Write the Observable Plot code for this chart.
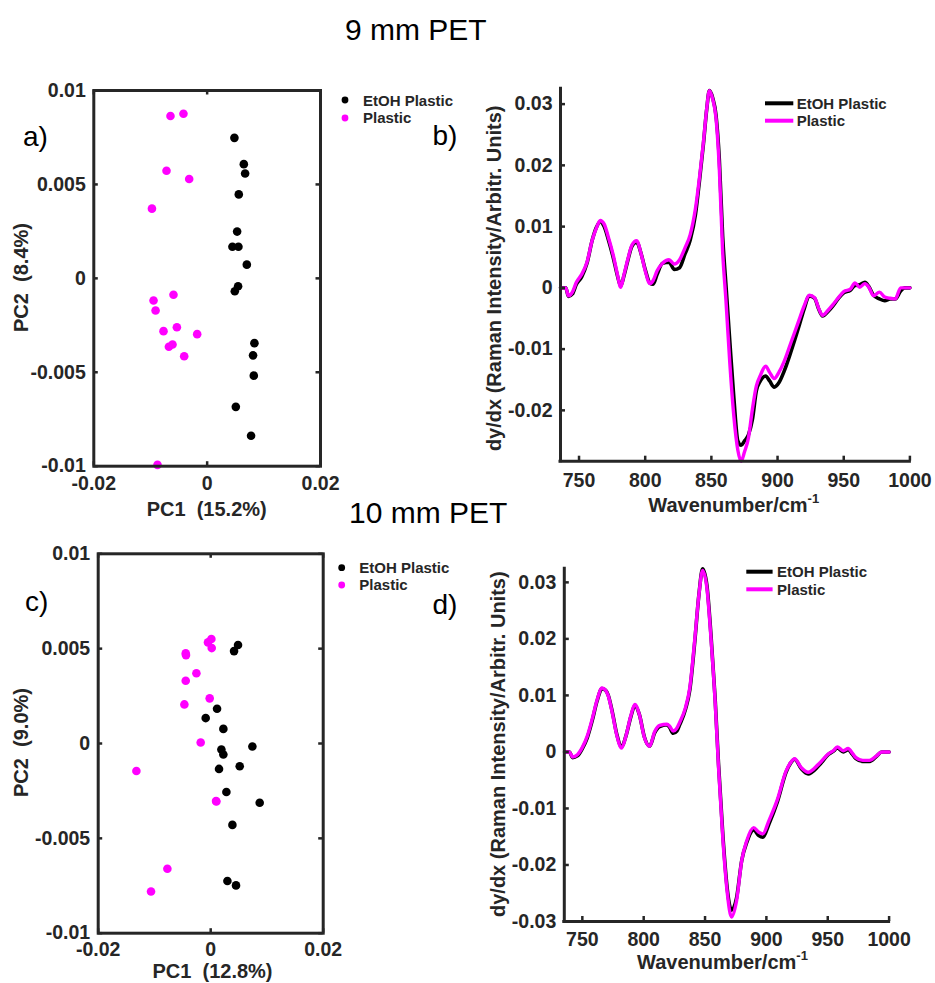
<!DOCTYPE html>
<html><head><meta charset="utf-8">
<script src="https://cdn.jsdelivr.net/npm/d3@7"></script>
<script src="https://cdn.jsdelivr.net/npm/@observablehq/plot@0.6"></script>
<style>
html,body{margin:0;padding:0;background:#fff;}
#root{position:relative;width:935px;height:983px;overflow:hidden;background:#fff;}
</style></head>
<body><div id="root"></div>
<script>
// ---------- data: PCA scores ----------
const aEtohPC1 = [0.00481,0.00647,0.0067,0.00558,0.00529,0.00446,0.00552,0.007,0.00546,0.00488,0.00834,0.0081,0.00823,0.00506,0.00775];
const aEtohPC2 = [0.00748,0.00608,0.00558,0.00447,0.00249,0.00168,0.00168,0.00073,-0.00042,-0.00069,-0.00345,-0.0041,-0.00518,-0.00684,-0.00838];
const aPlasticPC1 = [-0.00647,-0.00418,-0.00717,-0.00317,-0.00974,-0.00594,-0.00946,-0.0091,-0.0077,-0.00534,-0.00176,-0.00675,-0.00611,-0.00405,-0.00876];
const aPlasticPC2 = [0.00864,0.00876,0.00573,0.00529,0.00371,-0.00087,-0.00118,-0.00171,-0.00281,-0.0026,-0.00297,-0.00364,-0.00352,-0.00415,-0.00993];

const cEtohPC1 = [0.00486,0.00415,0.00113,-0.00089,0.00225,0.00741,0.0019,0.00225,0.00516,0.00148,0.00279,0.00871,0.00386,0.00297,0.0045];
const cEtohPC2 = [0.00519,0.00487,0.00183,0.00134,0.00077,-0.00016,-0.00032,-0.00058,-0.0012,-0.00134,-0.00256,-0.00312,-0.00429,-0.00725,-0.00748];
const cPlasticPC1 = [0.00012,-0.00048,0.00018,-0.00444,-0.00439,-0.00254,-0.00444,-0.00018,-0.00468,-0.00178,-0.01321,0.00095,0.00101,-0.0077,-0.01061];
const cPlasticPC2 = [0.00551,0.00533,0.00503,0.00475,0.00466,0.0037,0.00331,0.00238,0.00206,0.00005,-0.00145,-0.00303,-0.00306,-0.0066,-0.0078];

// ---------- data: derivative spectra ----------
const bWave = [736,740,742,745,748,752,756,760,763,766,769,772,776,779,781.5,784,787,790,793.5,797,800,803.5,806,809,813,818,822,826,830,834,838,841,844,846.5,848.5,851,853.5,856,858.5,861,864,867,870,872.5,875,878,881,884,887,891,894,897.5,901,905,910,916,920,924,928,931,934,938,942,946,950,955,958.5,962,966,969,972.5,977,981,985,989,993,996,1000];
const bPlastic = [0,0,-0.0013,-0.0007,0.0009,0.0022,0.0042,0.0078,0.0097,0.0110,0.0104,0.0084,0.0052,0.0022,0.0001,0.0022,0.0048,0.0070,0.0077,0.0055,0.0028,0.0007,0.0012,0.0028,0.0040,0.0046,0.0039,0.0046,0.0065,0.0087,0.0130,0.0180,0.0238,0.0293,0.0322,0.0308,0.0277,0.0195,0.0060,-0.0020,-0.0125,-0.0210,-0.0265,-0.0283,-0.0268,-0.0245,-0.0198,-0.0160,-0.0143,-0.0128,-0.0138,-0.0148,-0.0138,-0.0120,-0.0090,-0.0054,-0.0030,-0.0012,-0.0016,-0.0033,-0.0045,-0.0037,-0.0027,-0.0016,-0.0006,-0.0002,0.0008,0.0001,0.0007,0.0001,-0.0013,-0.0007,-0.0015,-0.0017,-0.0018,0,0,0];
const bEtoh = [0,0,-0.0014,-0.0010,0.0006,0.0018,0.0040,0.0078,0.0098,0.0108,0.0100,0.0080,0.0048,0.0020,0.0003,0.0020,0.0046,0.0068,0.0075,0.0055,0.0030,0.0008,0.0006,0.0022,0.0040,0.0042,0.0030,0.0033,0.0055,0.0078,0.0120,0.0175,0.0235,0.0292,0.0322,0.0310,0.0282,0.0210,0.0085,0.0005,-0.0090,-0.0180,-0.0250,-0.0257,-0.0250,-0.0240,-0.0215,-0.0168,-0.0152,-0.0144,-0.0152,-0.0162,-0.0155,-0.0136,-0.0105,-0.0064,-0.0035,-0.0013,-0.0017,-0.0034,-0.0046,-0.0039,-0.0029,-0.0017,-0.0008,-0.0004,0.0004,0.0005,0.0009,0.0002,-0.0012,-0.0018,-0.0021,-0.0018,-0.0018,-0.0005,0,0];

const dWave = [735.5,739.5,742,746,750,754,758,762,766,769,771,774.5,778,782,785.5,789.5,792.8,796.5,800.5,804.8,809,813,819,821,824,827,829.3,834,837.6,841.5,845,848,851.5,854.8,858.2,861,864.6,868.2,871.5,875.7,879.9,884,889.6,893.8,897.1,902,909,916,920,923,928.5,934,942.4,950.8,955,957.7,962.7,966.6,970,973,978.6,984,989.7,993.9,1000];
const dPlastic = [0,0,-0.0009,-0.0005,0.0008,0.0028,0.0058,0.0092,0.0113,0.0109,0.0100,0.0068,0.0030,0.0007,0.0028,0.0064,0.0084,0.0066,0.0026,0.0010,0.0036,0.0047,0.0049,0.0046,0.0037,0.0042,0.0052,0.0078,0.0114,0.0196,0.0278,0.0321,0.0290,0.0202,0.0090,-0.0028,-0.0157,-0.0251,-0.0292,-0.0263,-0.0192,-0.0157,-0.0134,-0.0142,-0.0145,-0.0122,-0.0084,-0.0034,-0.0018,-0.0012,-0.0028,-0.0036,-0.0022,-0.0003,0.0003,0.0009,0.0002,0.0006,-0.0002,-0.0010,-0.0015,-0.0015,-0.0007,0,0];
const dEtoh = [0,0,-0.0010,-0.0007,0.0006,0.0025,0.0055,0.0090,0.0112,0.0109,0.0101,0.0070,0.0032,0.0009,0.0028,0.0062,0.0082,0.0066,0.0027,0.0010,0.0034,0.0045,0.0048,0.0044,0.0033,0.0037,0.0048,0.0075,0.0110,0.0192,0.0278,0.0324,0.0295,0.0208,0.0095,-0.0022,-0.0150,-0.0244,-0.0280,-0.0258,-0.0192,-0.0160,-0.0138,-0.0148,-0.0151,-0.0128,-0.0088,-0.0036,-0.0019,-0.0013,-0.0030,-0.0039,-0.0025,-0.0004,0.0002,0.0007,0.0000,0.0004,-0.0004,-0.0012,-0.0017,-0.0017,-0.0008,0,0];

// ---------- ticks ----------
const pcXTicks = [-0.02, 0, 0.02];
const pcXTickLabels = ["-0.02", "0", "0.02"];
const pcYTicks = [-0.01, -0.005, 0, 0.005, 0.01];
const pcYTickLabels = ["-0.01", "-0.005", "0", "0.005", "0.01"];
const waveTicks = [750, 800, 850, 900, 950, 1000];
const waveTickLabels = ["750", "800", "850", "900", "950", "1000"];
const bYTicks = [-0.02, -0.01, 0, 0.01, 0.02, 0.03];
const bYTickLabels = ["-0.02", "-0.01", "0", "0.01", "0.02", "0.03"];
const dYTicks = [-0.03, -0.02, -0.01, 0, 0.01, 0.02, 0.03];
const dYTickLabels = ["-0.03", "-0.02", "-0.01", "0", "0.01", "0.02", "0.03"];

const seriesNames = ["EtOH Plastic", "Plastic"];
const seriesColors = ["#000000", "#ff00ff"];

// ---------- helpers ----------
const AX = "#262626";
const root = document.getElementById("root");
const fmt = (ticks, labels) => d => labels[ticks.indexOf(d)];

function place(svg, left, top) {
  svg.style.position = "absolute";
  svg.style.left = left + "px";
  svg.style.top = top + "px";
  root.appendChild(svg);
}

function baseStyle() {
  return {fontFamily: "'Liberation Sans', Arial, sans-serif", fontSize: "19.5px", fontWeight: "bold",
          color: AX, background: "transparent", overflow: "visible"};
}

function scatterPanel(cfg) {
  const mL = cfg.fl - cfg.left, mR = cfg.left + cfg.W - cfg.fr;
  const mT = cfg.ft - cfg.top, mB = cfg.top + cfg.H - cfg.fb;
  const iW = cfg.fr - cfg.fl, iH = cfg.fb - cfg.ft;
  const et = cfg.etX.map((x, i) => ({x, y: cfg.etY[i]}));
  const pl = cfg.plX.map((x, i) => ({x, y: cfg.plY[i]}));
  const tl = 4.5;
  const svg = Plot.plot({
    width: cfg.W, height: cfg.H, marginLeft: mL, marginRight: mR, marginTop: mT, marginBottom: mB,
    style: baseStyle(),
    x: {domain: [-0.02, 0.02]},
    y: {domain: [-0.01, 0.01]},
    marks: [
      Plot.dot(et, {x: "x", y: "y", r: 4.3, fill: seriesColors[0], stroke: "none"}),
      Plot.dot(pl, {x: "x", y: "y", r: 4.3, fill: seriesColors[1], stroke: "none"}),
      Plot.tickX(pcXTicks, {x: d => d, insetTop: iH - tl, stroke: AX, strokeWidth: 2.5}),
      Plot.tickX(pcXTicks, {x: d => d, insetBottom: iH - tl, stroke: AX, strokeWidth: 2.5}),
      Plot.tickY(pcYTicks, {y: d => d, insetRight: iW - tl, stroke: AX, strokeWidth: 2.5}),
      Plot.tickY(pcYTicks, {y: d => d, insetLeft: iW - tl, stroke: AX, strokeWidth: 2.5}),
      Plot.frame({stroke: AX, strokeWidth: 3}),
      Plot.axisX({ticks: pcXTicks, tickSize: 0, tickPadding: cfg.xPad, tickFormat: fmt(pcXTicks, pcXTickLabels), label: null}),
      Plot.axisY({ticks: pcYTicks, tickSize: 0, tickPadding: 8, tickFormat: fmt(pcYTicks, pcYTickLabels), label: null})
    ]
  });
  place(svg, cfg.left, cfg.top);
}

function linePanel(cfg) {
  const mL = cfg.fl - cfg.left, mR = cfg.left + cfg.W - cfg.fr;
  const mT = cfg.ft - cfg.top, mB = cfg.top + cfg.H - cfg.fb;
  const iW = cfg.fr - cfg.fl, iH = cfg.fb - cfg.ft;
  const et = cfg.wave.map((w, i) => ({w, v: cfg.et[i]}));
  const pl = cfg.wave.map((w, i) => ({w, v: cfg.pl[i]}));
  const tl = 5;
  const svg = Plot.plot({
    width: cfg.W, height: cfg.H, marginLeft: mL, marginRight: mR, marginTop: mT, marginBottom: mB,
    style: baseStyle(),
    x: {domain: cfg.xDomain},
    y: {domain: cfg.yDomain},
    marks: [
      Plot.line(et, {x: "w", y: "v", stroke: seriesColors[0], strokeWidth: 3.6, curve: "monotone-x"}),
      Plot.line(pl, {x: "w", y: "v", stroke: seriesColors[1], strokeWidth: 3.4, curve: "monotone-x"}),
      Plot.tickX(waveTicks, {x: d => d, insetTop: iH - tl, stroke: AX, strokeWidth: 2.5}),
      Plot.tickY(cfg.yTicks, {y: d => d, insetRight: iW - tl, stroke: AX, strokeWidth: 2.5}),
      Plot.ruleX([cfg.xDomain[0]], {stroke: AX, strokeWidth: 3, strokeLinecap: "square"}),
      Plot.ruleY([cfg.yDomain[0]], {stroke: AX, strokeWidth: 3, strokeLinecap: "square"}),
      Plot.axisX({ticks: waveTicks, tickSize: 0, tickPadding: cfg.xPad, tickFormat: fmt(waveTicks, waveTickLabels), label: null}),
      Plot.axisY({ticks: cfg.yTicks, tickSize: 0, tickPadding: 8, tickFormat: fmt(cfg.yTicks, cfg.yLabels), label: null})
    ]
  });
  place(svg, cfg.left, cfg.top);
}

scatterPanel({left: 0, top: 60, W: 340, H: 460, fl: 93.3, fr: 320, ft: 90, fb: 465.7, xPad: 10,
  etX: aEtohPC1, etY: aEtohPC2, plX: aPlasticPC1, plY: aPlasticPC2});
scatterPanel({left: 0, top: 520, W: 340, H: 463, fl: 97.7, fr: 322.7, ft: 553.3, fb: 932.7, xPad: 9,
  etX: cEtohPC1, etY: cEtohPC2, plX: cPlasticPC1, plY: cPlasticPC2});
linePanel({left: 470, top: 60, W: 465, H: 460, fl: 560, fr: 909.4, ft: 88.3, fb: 460.7, xPad: 12,
  xDomain: [736, 1000], yDomain: [-0.0283, 0.0325], yTicks: bYTicks, yLabels: bYTickLabels,
  wave: bWave, et: bEtoh, pl: bPlastic});
linePanel({left: 470, top: 540, W: 465, H: 443, fl: 563.8, fr: 888.6, ft: 568.3, fb: 921, xPad: 10.5,
  xDomain: [735.3, 1000], yDomain: [-0.03, 0.0324], yTicks: dYTicks, yLabels: dYTickLabels,
  wave: dWave, et: dEtoh, pl: dPlastic});

// ---------- overlay: titles, panel letters, axis labels, legends ----------
const ov = d3.select(root).append("svg")
  .attr("width", 935).attr("height", 983)
  .style("position", "absolute").style("left", "0px").style("top", "0px")
  .style("pointer-events", "none")
  .style("font-family", "'Liberation Sans', Arial, sans-serif");

function txt(s, x, y, size, weight, anchor, rot) {
  const t = ov.append("text").attr("font-size", size).attr("font-weight", weight)
    .attr("text-anchor", anchor || "start").attr("fill", weight === "bold" ? AX : "#000").text(s);
  if (rot) t.attr("transform", `translate(${x},${y}) rotate(${rot})`);
  else t.attr("x", x).attr("y", y);
  return t;
}

txt("9 mm PET", 345, 40, 30, "normal");
txt("10 mm PET", 349, 523.3, 30, "normal");
txt("a)", 23, 146, 28, "normal");
txt("b)", 432.5, 145, 28, "normal");
txt("c)", 25, 611, 28, "normal");
txt("d)", 432.5, 614, 28, "normal");

txt("PC2  (8.4%)", 27.6, 277.5, 20, "bold", "middle", -90).style("white-space", "pre");
txt("PC1  (15.2%)", 206.7, 515.5, 20, "bold", "middle").style("white-space", "pre");
txt("PC2  (9.0%)", 27.6, 742.5, 20, "bold", "middle", -90).style("white-space", "pre");
txt("PC1  (12.8%)", 212.5, 977.5, 20, "bold", "middle").style("white-space", "pre");

txt("dy/dx (Raman Intensity/Arbitr. Units)", 501.3, 278.3, 20, "bold", "middle", -90);
txt("dy/dx (Raman Intensity/Arbitr. Units)", 504.7, 744.2, 20, "bold", "middle", -90);

function waveLabel(x, y) {
  const t = ov.append("text").attr("x", x).attr("y", y).attr("font-size", 20).attr("font-weight", "bold").attr("fill", AX);
  t.append("tspan").text("Wavenumber/cm");
  t.append("tspan").attr("dy", -9).attr("font-size", 13).text("-1");
}
waveLabel(648.3, 512);
waveLabel(637, 968.5);

// scatter legends (dot swatches)
function dotLegend(dx, ys, tx, bases) {
  seriesNames.forEach((n, i) => {
    ov.append("circle").attr("cx", dx).attr("cy", ys[i]).attr("r", 3.4).attr("fill", seriesColors[i]);
    txt(n, tx, bases[i], 15, "bold");
  });
}
dotLegend(345, [100, 118], 363, [105.5, 123]);
dotLegend(341.7, [567.7, 585], 359.3, [572.5, 589.8]);

// line legends
function lineLegend(x1, x2, ys, tx, bases) {
  seriesNames.forEach((n, i) => {
    ov.append("line").attr("x1", x1).attr("x2", x2).attr("y1", ys[i]).attr("y2", ys[i])
      .attr("stroke", seriesColors[i]).attr("stroke-width", 4);
    txt(n, tx, bases[i], 15, "bold");
  });
}
lineLegend(765, 793.3, [103.3, 120.7], 796.7, [108.5, 126]);
lineLegend(746.3, 772.6, [571.7, 589.3], 777, [577, 594.5]);
</script>
</body></html>
